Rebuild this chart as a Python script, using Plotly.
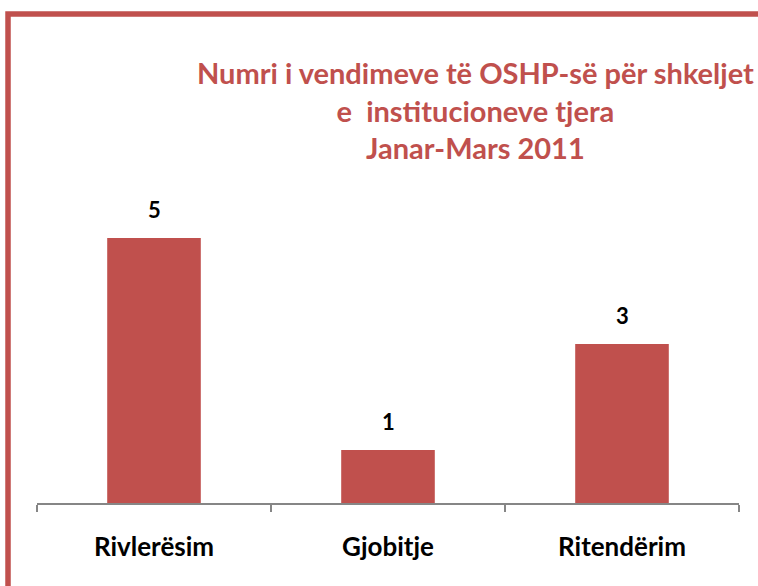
import plotly.graph_objects as go

categories = ["Rivlerësim", "Gjobitje", "Ritendërim"]
values = [5, 1, 3]
title_lines = ["Numri i vendimeve të OSHP-së për shkeljet", "e  institucioneve tjera", "Janar-Mars 2011"]

RED = "#C0504D"
FONT = "Lato"

fig = go.Figure()
fig.add_trace(go.Bar(x=categories, y=values, marker=dict(color=RED, line=dict(width=0)),
                     hoverinfo="skip"))

annotations = []
for c, v in zip(categories, values):
    annotations.append(dict(x=c, y=v, xref="x", yref="y", text="<b>%d</b>" % v,
                            showarrow=False, yanchor="bottom", yshift=13,
                            font=dict(family=FONT, size=22, color="black")))

annotations.append(dict(xref="paper", yref="paper", x=0.625, y=1.415, xanchor="center",
                        yanchor="top", showarrow=False, align="center",
                        text="<b>" + "<br>".join(title_lines) + "</b>",
                        font=dict(family=FONT, size=29, color=RED)))

fig.update_layout(
    width=758, height=586,
    margin=dict(l=37, r=19, t=185, b=83),
    paper_bgcolor="white", plot_bgcolor="white",
    bargap=0.6, showlegend=False,
    annotations=annotations,
    shapes=[dict(type="rect", xref="paper", yref="paper",
                 x0=-0.0413, x1=1.2, y0=-0.5, y1=1.5377,
                 line=dict(color=RED, width=5.5), fillcolor="rgba(0,0,0,0)", layer="above")],
    xaxis=dict(showline=True, linecolor="#868686", linewidth=1.5,
               ticks="outside", tickson="boundaries", ticklen=7, tickcolor="#868686",
               tickwidth=1.5, ticklabelstandoff=20,
               tickfont=dict(family=FONT, size=26, color="black"),
               showgrid=False, zeroline=False, fixedrange=True),
    yaxis=dict(range=[0, 6], visible=False, showgrid=False, zeroline=False, fixedrange=True),
)
fig.update_xaxes(tickvals=categories, ticktext=["<b>%s</b>" % c for c in categories])

fig.write_html("out.html", config={"displayModeBar": False},
               post_script="document.body.style.margin='0';")
